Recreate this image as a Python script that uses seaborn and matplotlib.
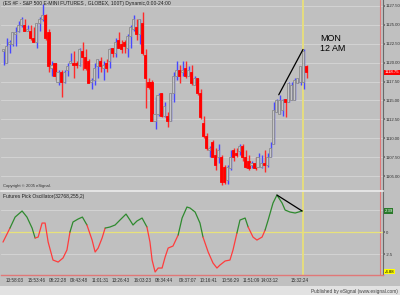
import numpy as np
import pandas as pd
import matplotlib
matplotlib.use("Agg")
import matplotlib.pyplot as plt
import seaborn as sns

# ---------------- data ----------------
opens = [1121.5, 1120.0, 1122.5, 1122.5, 1123.75, 1124.25, 1125.0, 1125.0, 1124.25, 1124.25,
         1123.25, 1122.75, 1125.25, 1125.75, 1126.25, 1124.0, 1119.25, 1120.0, 1117.5, 1118.75,
         1117.5, 1119.0, 1120.0, 1120.0, 1120.0, 1119.75, 1121.5, 1120.75, 1120.25, 1117.5,
         1117.75, 1119.5, 1120.25, 1119.25, 1120.0, 1120.25, 1122.0, 1121.25, 1123.0, 1122.5,
         1122.75, 1122.0, 1123.5, 1124.5, 1124.75, 1123.75, 1125.25, 1121.0, 1117.5, 1117.5,
         1112.25, 1113.25, 1116.0, 1113.0, 1113.0, 1112.25, 1116.0, 1118.25, 1119.0, 1118.75,
         1119.25, 1118.25, 1118.75, 1117.0, 1118.0, 1116.0, 1112.0, 1110.25, 1108.5, 1109.5,
         1107.75, 1107.5, 1107.5, 1106.25, 1104.5, 1106.0, 1108.5, 1108.0, 1108.25, 1109.0,
         1107.5, 1107.0, 1106.5, 1106.75, 1106.25, 1106.25, 1106.75, 1106.5, 1107.5, 1109.25,
         1113.5, 1113.25, 1113.75, 1115.25, 1114.75, 1115.0, 1115.0, 1117.25, 1117.5, 1117.5,
         1119.5]
highs = [1121.75, 1123.25, 1123.0, 1124.0, 1124.75, 1125.5, 1126.0, 1125.75, 1125.0, 1125.0,
         1124.75, 1125.25, 1126.0, 1127.75, 1126.5, 1124.5, 1120.25, 1120.0, 1119.0, 1119.0,
         1119.0, 1120.0, 1121.25, 1121.5, 1120.25, 1122.0, 1122.75, 1121.75, 1120.5, 1118.0,
         1120.0, 1120.5, 1120.75, 1120.25, 1120.5, 1122.0, 1122.0, 1123.25, 1124.0, 1123.0,
         1123.0, 1123.75, 1125.0, 1126.25, 1125.75, 1125.75, 1126.75, 1121.75, 1118.0, 1117.75,
         1115.5, 1116.0, 1116.0, 1114.75, 1113.5, 1116.0, 1118.75, 1120.25, 1119.75, 1120.25,
         1120.25, 1119.5, 1119.75, 1118.25, 1118.0, 1116.5, 1113.0, 1110.75, 1109.0, 1109.75,
         1108.75, 1109.25, 1107.75, 1106.5, 1106.5, 1108.5, 1108.75, 1108.75, 1109.25, 1109.25,
         1108.5, 1107.75, 1107.0, 1107.5, 1108.0, 1107.75, 1108.5, 1108.0, 1109.5, 1114.75,
         1115.25, 1115.75, 1115.25, 1115.25, 1117.5, 1117.5, 1118.0, 1118.0, 1119.5, 1121.75,
         1119.75]
lows = [1119.75, 1120.0, 1121.25, 1122.25, 1122.25, 1124.0, 1124.75, 1124.25, 1124.25, 1123.0,
        1122.75, 1122.0, 1124.25, 1125.5, 1123.0, 1118.75, 1118.25, 1117.75, 1117.0, 1115.5,
        1117.25, 1118.25, 1120.0, 1118.0, 1119.25, 1119.5, 1119.0, 1119.0, 1117.25, 1116.5,
        1117.0, 1118.0, 1118.75, 1117.75, 1118.75, 1119.25, 1120.75, 1120.75, 1122.0, 1121.25,
        1121.25, 1120.75, 1122.0, 1124.25, 1123.0, 1122.5, 1121.0, 1114.0, 1116.5, 1112.25,
        1111.25, 1113.0, 1112.75, 1112.75, 1111.5, 1112.25, 1114.75, 1117.75, 1117.25, 1118.25,
        1118.0, 1118.25, 1117.0, 1117.0, 1115.75, 1112.5, 1110.0, 1108.5, 1107.5, 1107.5,
        1105.75, 1106.75, 1103.75, 1104.0, 1104.0, 1105.75, 1107.0, 1107.5, 1107.75, 1107.0,
        1106.0, 1105.75, 1106.0, 1105.75, 1106.25, 1106.0, 1105.5, 1106.25, 1107.5, 1109.25,
        1113.5, 1113.25, 1113.0, 1112.75, 1114.75, 1115.0, 1115.0, 1117.25, 1117.0, 1116.5,
        1118.0]
closes = [1121.75, 1122.25, 1122.75, 1124.0, 1124.0, 1125.0, 1125.75, 1124.25, 1124.5, 1123.25,
          1122.75, 1125.25, 1125.75, 1126.25, 1123.25, 1119.5, 1119.75, 1118.25, 1118.75, 1117.5,
          1118.75, 1119.5, 1120.25, 1119.75, 1119.75, 1121.75, 1120.75, 1119.25, 1117.25, 1117.75,
          1119.25, 1120.5, 1119.5, 1119.75, 1119.25, 1121.75, 1121.25, 1122.75, 1122.0, 1121.75,
          1122.25, 1123.5, 1124.75, 1125.75, 1123.75, 1125.75, 1121.25, 1118.0, 1116.75, 1112.25,
          1113.25, 1115.75, 1113.0, 1114.25, 1112.25, 1116.0, 1118.25, 1119.0, 1118.25, 1119.0,
          1118.25, 1119.0, 1117.25, 1118.0, 1116.0, 1112.75, 1110.25, 1108.75, 1108.75, 1107.5,
          1106.5, 1108.5, 1104.25, 1104.25, 1106.25, 1107.5, 1107.5, 1107.75, 1109.0, 1107.5,
          1106.25, 1106.0, 1106.75, 1106.0, 1107.5, 1106.75, 1106.5, 1107.5, 1108.75, 1113.75,
          1115.0, 1115.0, 1115.0, 1114.75, 1117.25, 1117.0, 1117.75, 1118.0, 1119.5, 1121.5,
          1118.75]

# oscillator (bar position, value, colour phase)
osc_bar = [0.0, 2.3, 4.0, 6.3, 7.9, 9.6, 10.6, 11.6, 12.9, 13.9, 14.9, 16.5, 18.2, 19.8, 21.1,
           22.1, 23.1, 24.8, 26.2, 27.7, 29.4, 30.4, 31.4, 32.7, 33.7, 35.3, 37.0, 38.6, 40.6,
           41.9, 42.9, 44.2, 45.9, 47.5, 48.5, 49.2, 50.2, 51.2, 52.5, 53.5, 54.5, 56.1, 57.8,
           59.1, 60.7, 61.7, 63.4, 65.0, 66.0, 67.7, 69.3, 70.6, 71.6, 73.3, 74.9, 75.9, 77.2,
           78.2, 79.9, 80.9, 82.5, 83.8, 85.5, 86.5, 87.5, 89.1, 90.4, 92.1, 93.1, 94.7, 96.4,
           98.7]
osc_val = [-1.14, 0.45, 1.70, 2.39, 1.70, 0.45, -0.68, -0.57, 1.02, 1.02, -1.14, -3.18, -3.41,
           -2.95, -2.04, 0.0, 1.14, 1.48, 1.70, 0.80, -0.91, -2.27, -1.82, -0.68, 0.45, 0.57,
           0.80, 1.36, 2.04, 1.36, 0.80, 1.25, 1.59, 0.57, -1.14, -3.18, -4.54, -4.09, -4.09,
           -2.84, -1.82, -1.59, -0.34, 1.59, 2.84, 2.73, 2.27, 1.02, -0.57, -2.27, -3.52, -4.09,
           -3.75, -3.29, -3.18, -2.04, -0.11, 1.36, 1.59, 0.57, -0.57, -0.91, -0.57, 0.23, 1.36,
           3.29, 4.20, 3.29, 2.50, 2.27, 2.16, 2.39]
osc_phase = ["r", "g", "g", "g", "g", "g", "r", "r", "r", "r", "r", "r", "r", "r", "r",
             "g", "g", "g", "g", "r", "r", "r", "r", "r", "g", "g", "g", "g", "g", "g",
             "g", "g", "g", "r", "r", "r", "r", "r", "r", "r", "r", "r", "g", "g", "g",
             "g", "g", "g", "r", "r", "r", "r", "r", "r", "r", "r", "g", "g", "g", "r",
             "r", "r", "r", "g", "g", "g", "g", "g", "g", "g", "g", "g"]

time_labels = ["13:58:03", "15:53:46", "08:22:28", "09:43:48", "11:01:31", "13:26:43",
               "16:03:23", "08:34:44", "09:37:07", "10:16:41", "10:56:29", "11:51:09",
               "14:03:12", "15:32:24"]
time_label_bars = [4, 11, 18, 25, 32, 39, 46, 53, 61, 68, 75, 82, 88, 98]
price_ticks = [1105.0, 1107.5, 1110.0, 1112.5, 1115.0, 1117.5, 1120.0, 1122.5, 1125.0, 1127.5]
osc_ticks = [-2.5, 0.0]
marker_bar = 99
trend_from, trend_to = 91, 99
osc_trend_from, osc_trend_to = 66, 71
osc_min_label = -4.88

# ---------------- style ----------------
sns.set_theme(style="white")
plt.rcParams["font.family"] = ["Liberation Sans", "DejaVu Sans"]
NARROW = ["Liberation Sans Narrow", "Liberation Sans", "DejaVu Sans"]
BG = "#c0c0c0"
GRID = "#d2d2d2"
BORDER = "#e07878"
LAB = 3.1

fig = plt.figure(figsize=(4.0, 2.95), dpi=100, facecolor=BG)
ax = fig.add_axes([1 / 400, 105 / 295, 382 / 400, 190 / 295])
ax2 = fig.add_axes([1 / 400, 20 / 295, 382 / 400, 84 / 295])
for a in (ax, ax2):
    a.set_facecolor(BG)
    a.set_xlim(-0.66, 125.4)
    for s in ("top", "left", "bottom"):
        a.spines[s].set_visible(False)
    a.spines["right"].set_color("#6a6a6a")
    a.spines["right"].set_linewidth(0.8)
    a.axvline(124.4, color=BORDER, lw=0.8, zorder=1)
    a.axvline(marker_bar, color="#e8e07a", lw=1.3, zorder=1.5)

# ---------------- candles ----------------
df = pd.DataFrame({"o": opens, "h": highs, "l": lows, "c": closes})
df["bar"] = np.arange(len(df))
df["up"] = df["c"] >= df["o"]
wick_col = np.where(df["up"], "#4848ff", "#ff2a2a")
ax.vlines(df["bar"] + 0.33, df["l"], df["h"], colors=wick_col, lw=1.0, zorder=2)
body_lo = np.minimum(df["o"], df["c"])
body_h = np.maximum((df["c"] - df["o"]).abs(), 0.12)
ax.bar(df["bar"], body_h, bottom=body_lo, width=0.7,
       color=np.where(df["up"], "#c6c6c6", "#ff0000"),
       edgecolor=np.where(df["up"], "#8c8c8c", "#ff0000"), linewidth=0.6, zorder=3)

ax.set_ylim(1103.15, 1128.29)
ax.set_yticks(price_ticks)
ax.set_yticklabels([f"{v:.2f}" for v in price_ticks])
ax.yaxis.tick_right()
ax.tick_params(axis="y", labelsize=LAB, length=1.5, pad=0.6, colors="#6a6a6a", labelcolor="#303030")
ax.set_xticks([])
ax.grid(axis="y", color=GRID, lw=0.8, zorder=0)
ax.set_axisbelow(True)

# trend line on price
ax.plot([trend_from, trend_to], [highs[trend_from], highs[trend_to]], color="black", lw=0.9, zorder=4)

# last price box
ax.text(1.004, closes[-1], f"{closes[-1]:.2f}", transform=ax.get_yaxis_transform(),
        fontsize=LAB, color="white", va="center", ha="left", family=NARROW,
        bbox=dict(facecolor="#ff0000", edgecolor="none", pad=0.4), zorder=6, clip_on=False)

ax.text(0.004, 0.995, "(ES #F - S&P 500 E-MINI FUTURES , GLOBEX, 100T) Dynamic,0:00-24:00",
        transform=ax.transAxes, fontsize=3.6, va="top", ha="left", color="#202020")
ax.text(0.004, 0.012, "Copyright © 2005 eSignal.", transform=ax.transAxes,
        fontsize=3.0, va="bottom", ha="left", color="#303030")
ax.text(0.835, 0.82, "MON\n12 AM", transform=ax.transAxes, fontsize=6.4,
        va="top", ha="left", color="black", linespacing=1.05)

# ---------------- oscillator ----------------
osc = pd.DataFrame({"bar": osc_bar, "val": osc_val, "phase": osc_phase})
runs = (osc["phase"] != osc["phase"].shift()).cumsum()
for rid, grp in osc.groupby(runs):
    end = min(grp.index.max() + 1, len(osc) - 1)
    seg = osc.loc[grp.index.min():end]
    col = "#2f8a2f" if grp["phase"].iloc[0] == "g" else "#ff3c3c"
    sns.lineplot(data=seg, x="bar", y="val", color=col, lw=0.9, ax=ax2,
                 estimator=None, sort=False, zorder=3)

ax2.plot([osc_bar[osc_trend_from], osc_bar[osc_trend_to]],
         [osc_val[osc_trend_from], osc_val[osc_trend_to]], color="black", lw=0.9, zorder=4)
ax2.set_ylim(osc_min_label, 4.66)
ax2.axhline(0, color="#e8e27a", lw=0.9, zorder=1)
for v in (2.5, -2.5):
    ax2.axhline(v, color=GRID, lw=0.8, zorder=0)
ax2.set_yticks(osc_ticks)
ax2.set_yticklabels([f"{v:g}" for v in osc_ticks])
ax2.yaxis.tick_right()
ax2.tick_params(axis="y", labelsize=LAB, length=1.5, pad=0.6, colors="#6a6a6a", labelcolor="#303030")
ax2.set_xticks(time_label_bars)
ax2.set_xticklabels(time_labels)
ax2.tick_params(axis="x", labelsize=3.3, length=0, pad=2.5, labelcolor="#303030")
ax2.set_xlabel("")
ax2.set_ylabel("")
ax.set_xlabel("")
ax.set_ylabel("")
for lab in ax.get_yticklabels() + ax2.get_yticklabels():
    lab.set_family(NARROW)
ax2.spines["top"].set_visible(True)
ax2.spines["top"].set_color("#ececec")
ax2.spines["top"].set_linewidth(1.2)
ax2.spines["bottom"].set_visible(True)
ax2.spines["bottom"].set_color(BORDER)
ax2.spines["bottom"].set_linewidth(1.0)

ax2.text(1.004, osc_val[-1], f"{osc_val[-1]:.2f}", transform=ax2.get_yaxis_transform(),
         fontsize=LAB, color="white", va="center", ha="left", family=NARROW,
         bbox=dict(facecolor="#2a7a2a", edgecolor="none", pad=0.4), zorder=6, clip_on=False)
ax2.text(1.004, osc_min_label + 0.35, f"{osc_min_label:.2f}", transform=ax2.get_yaxis_transform(),
         fontsize=LAB, color="black", va="center", ha="left", family=NARROW,
         bbox=dict(facecolor="#ffff00", edgecolor="none", pad=0.4), zorder=6, clip_on=False)
ax2.text(0.004, 0.97, "Futures Pick Oscillator(32768,255,2)", transform=ax2.transAxes,
         fontsize=3.6, va="top", ha="left", color="#202020")

# footer band
fig.patches.append(plt.Rectangle((0, 0), 1, 9 / 295, transform=fig.transFigure,
                                 facecolor="#e2e2e2", edgecolor="none", zorder=0))
fig.text(0.995, 4 / 295, "Published by eSignal (www.esignal.com)", fontsize=3.4,
         ha="right", va="center", color="#404040")

fig.savefig("out.png", dpi=100, facecolor=BG)
